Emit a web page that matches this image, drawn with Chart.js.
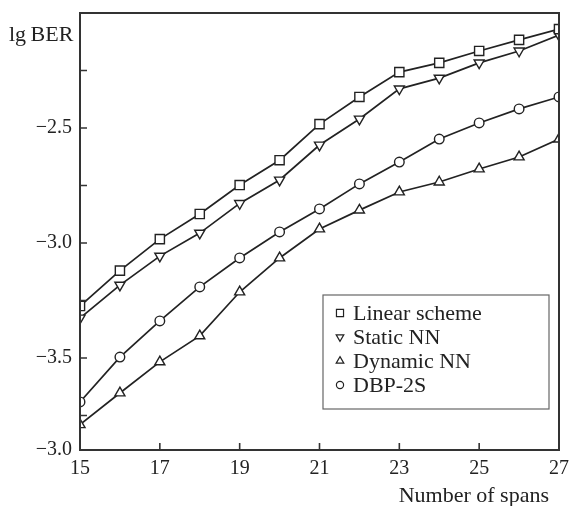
<!DOCTYPE html>
<html>
<head>
<meta charset="utf-8">
<script src="https://cdn.jsdelivr.net/npm/chart.js@4.4.1/dist/chart.umd.min.js"></script>
<style>
    html, body { margin: 0; padding: 0; background: #fff; }
    #wrap { position: relative; width: 572px; height: 506px; }
</style>
</head>
<body>
<div id="wrap"><canvas id="ber-chart" width="572" height="506"></canvas></div>
<script>
const spans = [15, 16, 17, 18, 19, 20, 21, 22, 23, 24, 25, 26, 27];
const linearScheme = [-3.274, -3.12, -2.983, -2.874, -2.748, -2.64, -2.483, -2.365, -2.257, -2.217, -2.165, -2.117, -2.07];
const staticNN = [-3.326, -3.183, -3.057, -2.957, -2.828, -2.726, -2.574, -2.461, -2.33, -2.283, -2.217, -2.165, -2.096];
const dynamicNN = [-3.79, -3.652, -3.517, -3.404, -3.213, -3.065, -2.939, -2.857, -2.778, -2.735, -2.678, -2.626, -2.548];
const dbp2s = [-3.691, -3.496, -3.339, -3.191, -3.065, -2.952, -2.852, -2.743, -2.648, -2.548, -2.478, -2.417, -2.365];

const yTickValues = [-3.9, -3.75, -3.5, -3.25, -3.0, -2.75, -2.5, -2.25, -2.0];
const yTickLabels = ['\u22123.0', '', '\u22123.5', '', '\u22123.0', '', '\u22122.5', '', ''];
const xTickValues = [15, 17, 19, 21, 23, 25, 27];

const FONT = '"Liberation Serif", "Times New Roman", serif';
const INK = '#222';

function toPoints(values) {
    return values.map((y, i) => ({ x: spans[i], y }));
}

function series(label, values, style, radius, rotation) {
    return {
        label,
        data: toPoints(values),
        borderColor: INK,
        borderWidth: 1.7,
        pointStyle: style,
        pointRotation: rotation || 0,
        pointRadius: radius,
        pointBackgroundColor: '#fff',
        pointBorderColor: INK,
        pointBorderWidth: 1.4,
        tension: 0,
    };
}

const framePlugin = {
    id: 'frame',
    afterDraw(chart) {
        const { ctx, chartArea: a, scales } = chart;
        ctx.save();
        ctx.strokeStyle = '#333';
        ctx.lineWidth = 2;
        ctx.strokeRect(a.left, a.top, a.right - a.left, a.bottom - a.top);

        // inward tick marks
        ctx.lineWidth = 1.6;
        ctx.beginPath();
        xTickValues.slice(1, -1).forEach((v) => {
            const px = scales.x.getPixelForValue(v);
            ctx.moveTo(px, a.bottom);
            ctx.lineTo(px, a.bottom - 7);
        });
        yTickValues.slice(1, -1).forEach((v) => {
            const py = scales.y.getPixelForValue(v);
            ctx.moveTo(a.left, py);
            ctx.lineTo(a.left + 7, py);
        });
        ctx.stroke();

        // axis titles
        ctx.fillStyle = INK;
        ctx.font = '22px ' + FONT;
        ctx.textBaseline = 'middle';
        ctx.textAlign = 'left';
        ctx.fillText('lg\u2009BER', 9, 35);
        ctx.textAlign = 'right';
        ctx.fillText('Number of spans', 549, 496);

        // legend box inside the plot
        const box = { left: 323, top: 295, width: 226, height: 114 };
        ctx.strokeStyle = '#666';
        ctx.lineWidth = 1.2;
        ctx.strokeRect(box.left, box.top, box.width, box.height);
        chart.data.datasets.forEach((ds, i) => {
            const cy = box.top + 18 + i * 24;
            ctx.lineWidth = 1.2;
            ctx.strokeStyle = INK;
            ctx.fillStyle = '#fff';
            Chart.helpers.drawPoint(ctx, {
                pointStyle: ds.pointStyle,
                rotation: ds.pointRotation,
                radius: ds.pointStyle === 'circle' ? 3.6 : (ds.pointStyle === 'rect' ? 5 : 4.4),
                borderWidth: 1.2,
            }, box.left + 17, cy);
            ctx.fillStyle = INK;
            ctx.textAlign = 'left';
            ctx.fillText(ds.label, box.left + 30, cy + 1);
        });
        ctx.restore();
    },
};

function initChart() {
    const canvas = document.getElementById('ber-chart');
    if (!canvas || typeof Chart === 'undefined') return;

    new Chart(canvas.getContext('2d'), {
        type: 'line',
        data: {
            datasets: [
                series('Linear scheme', linearScheme, 'rect', 6.5),
                series('Static NN', staticNN, 'triangle', 5.8, 180),
                series('Dynamic NN', dynamicNN, 'triangle', 5.8),
                series('DBP-2S', dbp2s, 'circle', 4.8),
            ],
        },
        options: {
            responsive: false,
            animation: false,
            layout: { padding: { top: 13, right: 13, left: 0, bottom: 0 } },
            plugins: {
                legend: { display: false },
                tooltip: { enabled: false },
            },
            scales: {
                x: {
                    type: 'linear',
                    min: 15,
                    max: 27,
                    afterBuildTicks: (scale) => {
                        scale.ticks = xTickValues.map((value) => ({ value }));
                    },
                    afterFit: (scale) => {
                        scale.height = 56;
                        scale.paddingLeft = 0;
                        scale.paddingRight = 0;
                    },
                    grid: { display: false, drawTicks: false },
                    border: { display: false },
                    ticks: {
                        color: INK,
                        font: { family: FONT, size: 20 },
                        padding: 7,
                        maxRotation: 0,
                    },
                },
                y: {
                    type: 'linear',
                    min: -3.9,
                    max: -2.0,
                    afterBuildTicks: (scale) => {
                        scale.ticks = yTickValues.map((value) => ({ value }));
                    },
                    afterFit: (scale) => {
                        scale.width = 80;
                        scale.paddingTop = 0;
                        scale.paddingBottom = 0;
                    },
                    grid: { display: false, drawTicks: false },
                    border: { display: false },
                    ticks: {
                        color: INK,
                        font: { family: FONT, size: 20 },
                        padding: 8,
                        autoSkip: false,
                        callback: (value, index) => yTickLabels[index],
                    },
                },
            },
        },
        plugins: [framePlugin],
    });
}

document.addEventListener('DOMContentLoaded', initChart);
</script>
</body>
</html>
